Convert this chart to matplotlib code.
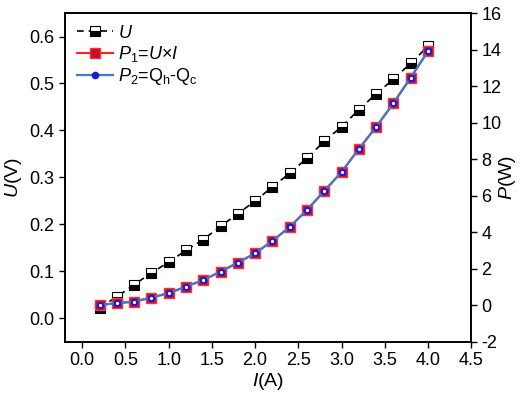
import matplotlib
matplotlib.use("Agg")
import matplotlib.pyplot as plt

plt.rcParams['font.family'] = ['Liberation Sans', 'DejaVu Sans']
plt.rcParams['mathtext.fontset'] = 'custom'
plt.rcParams['mathtext.rm'] = 'Liberation Sans'
plt.rcParams['mathtext.it'] = 'Liberation Sans:italic'
plt.rcParams['mathtext.default'] = 'regular'

current = [0.2, 0.4, 0.6, 0.8, 1.0, 1.2, 1.4, 1.6, 1.8, 2.0,
           2.2, 2.4, 2.6, 2.8, 3.0, 3.2, 3.4, 3.6, 3.8, 4.0]
voltage = [0.023, 0.046, 0.072, 0.097, 0.120, 0.145, 0.168, 0.196, 0.223, 0.250,
           0.280, 0.309, 0.341, 0.377, 0.408, 0.444, 0.478, 0.509, 0.543, 0.579]
power1 = [0.03, 0.12, 0.21, 0.43, 0.67, 1.03, 1.39, 1.85, 2.34, 2.85,
          3.53, 4.29, 5.22, 6.26, 7.30, 8.56, 9.76, 11.06, 12.46, 13.90]
power2 = [0.03, 0.12, 0.21, 0.43, 0.67, 1.03, 1.39, 1.85, 2.34, 2.85,
          3.53, 4.29, 5.22, 6.26, 7.30, 8.56, 9.76, 11.06, 12.46, 13.90]

xticks = [0.0, 0.5, 1.0, 1.5, 2.0, 2.5, 3.0, 3.5, 4.0, 4.5]
uticks = [0.0, 0.1, 0.2, 0.3, 0.4, 0.5, 0.6]
pticks = [-2, 0, 2, 4, 6, 8, 10, 12, 14, 16]

fig = plt.figure(figsize=(5.2, 3.94), dpi=100)
ax = fig.add_axes([0.125, 0.132, 0.781, 0.835])
ax2 = ax.twinx()

lu, = ax.plot(current, voltage, color='black', linestyle=(0, (4, 3)), linewidth=1.2,
              marker='s', markersize=6.5, fillstyle='bottom',
              markerfacecolor='black', markerfacecoloralt='white',
              markeredgecolor='black', markeredgewidth=0.8, label='$\\mathit{U}$')
lp1, = ax2.plot(current, power1, color='#ff2020', linewidth=1.5, marker='s',
                markersize=6.5, markerfacecolor='#c0102a', markeredgecolor='#ff3030',
                markeredgewidth=1.0, label='$\\mathit{P}_1$=$\\mathit{U}$×$\\mathit{I}$')
lp2, = ax2.plot(current, power2, color='#3a7ad0', linewidth=1.6, marker='o',
                markersize=4.5, markerfacecolor='#1a1ae0', markeredgecolor='#1a1ae0',
                label='$\\mathit{P}_2$=Q$_h$-Q$_c$')
ax2.plot(current, power2, linestyle='none', marker='o', markersize=1.3,
         markerfacecolor='white', markeredgecolor='white')

ax.set_xlim(-0.2, 4.5)
ax.set_ylim(-0.05, 0.65)
ax2.set_ylim(-2, 16)
ax.set_xticks(xticks)
ax.set_xticklabels([f'{t:.1f}' for t in xticks])
ax.set_yticks(uticks)
ax.set_yticklabels([f'{t:.1f}' for t in uticks])
ax2.set_yticks(pticks)
ax2.set_yticklabels([str(t) for t in pticks])

for a in (ax, ax2):
    a.tick_params(direction='out', length=4, width=1, labelsize=13, colors='black')
    for s in a.spines.values():
        s.set_linewidth(1.2)

ax.set_xlabel('$\\mathit{I}$(A)', fontsize=14, labelpad=1)
ax.set_ylabel('$\\mathit{U}$(V)', fontsize=14, labelpad=4)
ax2.set_ylabel('$\\mathit{P}$(W)', fontsize=14, labelpad=-3)

leg = ax.legend(handles=[lu, lp1, lp2], loc='upper left', frameon=False,
                fontsize=13, handlelength=2.0, handletextpad=0.3,
                labelspacing=0.12, borderaxespad=0.25)

fig.savefig('out.png', dpi=100)
